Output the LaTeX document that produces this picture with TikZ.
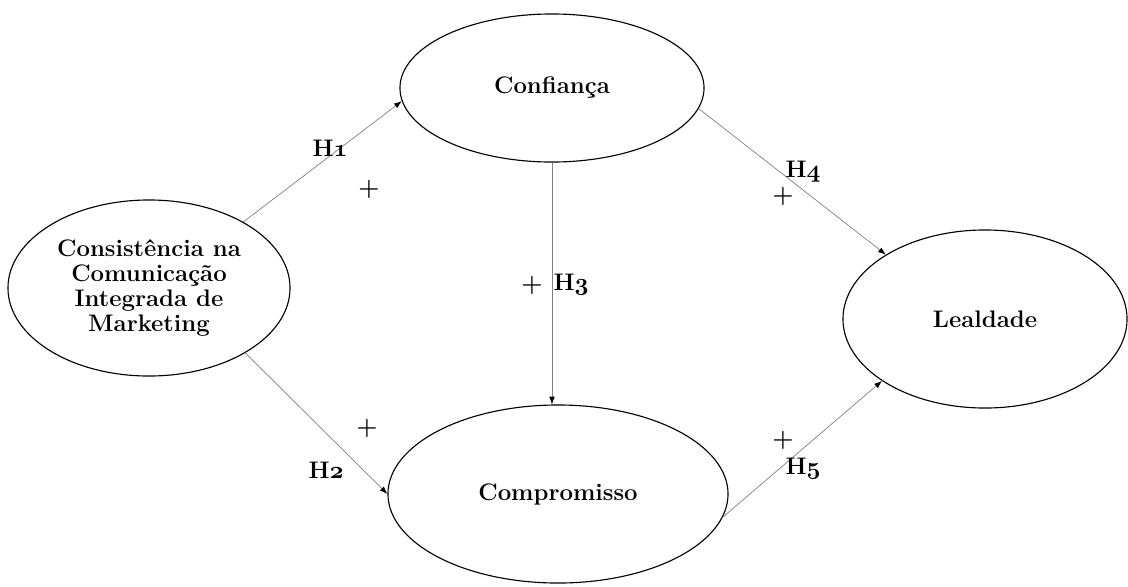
\documentclass[tikz,border=0pt]{standalone}
\usepackage{fontspec}
\usetikzlibrary{shapes.geometric,arrows.meta}

\newcommand\oldnum[1]{{\usefont{OML}{cmm}{b}{it}#1}}
\tikzset{
  construct/.style={ellipse,draw,line width=.8pt,inner sep=0pt,align=center,
    font=\fontsize{17}{17.8}\selectfont\bfseries},
  path/.style={draw=gray,line width=.5pt,-{Latex[black,length=5.5pt,width=4pt]}},
  hyp/.style={font=\fontsize{17}{17.8}\selectfont\bfseries},
  sign/.style={font=\fontsize{18}{18}\selectfont\boldmath}
}

\begin{document}
\begin{tikzpicture}[x=0.025cm,y=-0.025cm]
\useasboundingbox (0,0) rectangle (1128,586);
% construtos
\node[construct,minimum width=7.05cm,minimum height=4.4cm] (cmi) at (149,288) {Consistência na\\Comunicação\\Integrada de\\Marketing};
\node[construct,minimum width=7.6cm,minimum height=3.7cm] (conf) at (552,88) {Confiança};
\node[construct,minimum width=8.5cm,minimum height=4.45cm] (comp) at (558,494) {Compromisso};
\node[construct,minimum width=7.1cm,minimum height=4.45cm] (leal) at (985,319) {Lealdade};
% hipoteses
\draw[path] (cmi.35.5) -- (conf.185.3);
\draw[path] (cmi.-34.6) -- (comp.180.7);
\draw[path] (conf.south) -- (conf.south |- comp.north);
\draw[path] (conf.-8.3) -- (leal.147.6);
\draw[path] (comp.-8.8) -- (leal.211.4);
\foreach \n/\x/\y/\t in {h1/330/148/1,h2/326/470/2,h3/571/285/3,h4/803/172/4,h5/803/469/5}
  \node[hyp] (\n) at (\x,\y) {H\oldnum{\t}};
\foreach \n/\x/\y in {s1/369/189,s2/367/428,s3/532/285,s4/783/196,s5/783/440}
  \node[sign] (\n) at (\x,\y) {$+$};
\end{tikzpicture}
\end{document}
